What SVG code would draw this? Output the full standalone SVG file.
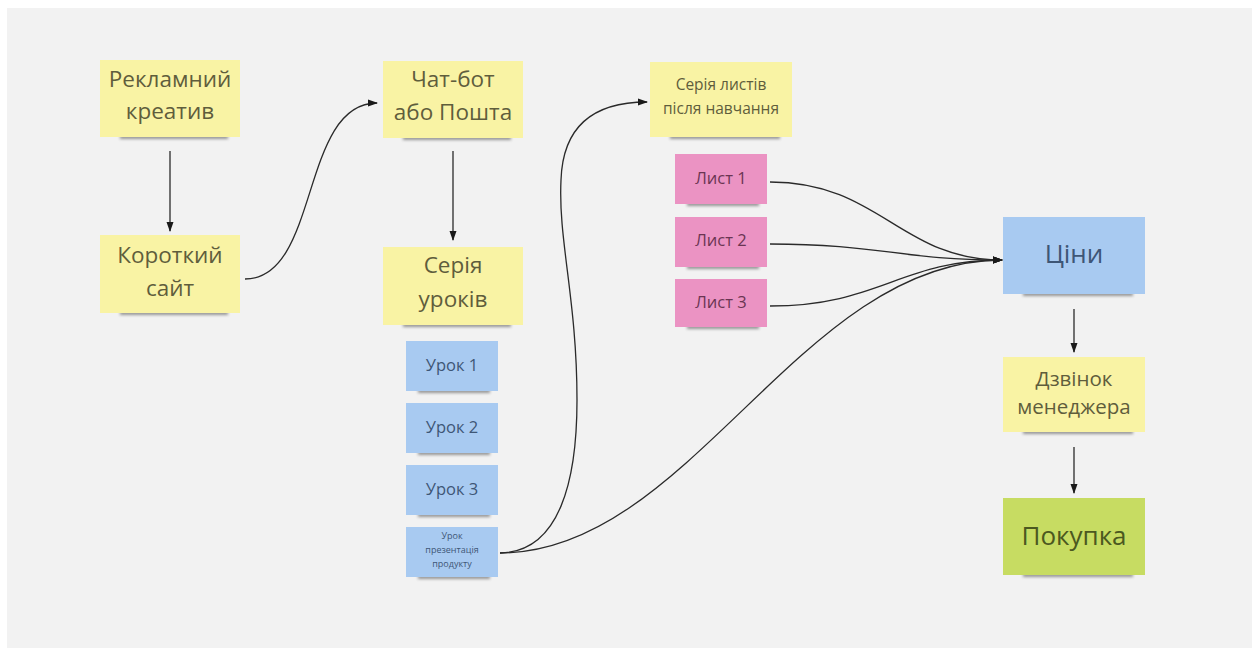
<svg xmlns="http://www.w3.org/2000/svg" width="1258" height="653" viewBox="0 0 1258 653">
  <style>
    .t { font-family: "Open Sans", "Liberation Sans", sans-serif; text-anchor: middle; }
    .yl { fill: #f9f3a4; }
    .pk { fill: #eb93c3; }
    .bl { fill: #a8caf1; }
    .gr { fill: #c7dc62; }
    .ty { fill: #5f5d3c; }
    .tp { fill: #6a3552; }
    .tb { fill: #3e5676; }
    .tg { fill: #4b5820; }
    .sh { fill: #555555; opacity: 0.6; filter: url(#blur); }
    .ca { fill: none; stroke: #2a2a2a; stroke-width: 1.3; marker-end: url(#ah); }
  </style>
  <defs>
    <filter id="blur" x="-10%" y="-100%" width="120%" height="300%">
      <feGaussianBlur stdDeviation="1.5"/>
    </filter>
    <marker id="ah" markerWidth="10" markerHeight="8" refX="9" refY="4" orient="auto" markerUnits="userSpaceOnUse">
      <path d="M0,0.5 L10,4 L0,7.5 Z" fill="#1a1a1a"/>
    </marker>
  </defs>
  <rect x="0" y="0" width="1258" height="653" fill="#ffffff"/>
  <rect x="7" y="8" width="1245" height="640" fill="#f2f2f2"/>

  <g id="connectors">
    <path class="ca" d="M170,151 L170,231"/>
    <path class="ca" d="M245,279 C320,279 300,103 377,103"/>
    <path class="ca" d="M453,151 L453,240"/>
    <path class="ca" d="M500,553 C560,552 577,480 577,400 C577,300 558,240 561,180 C563,120 600,102 647,102"/>
    <path class="ca" d="M500,553 C690,553 800,260 1002,260"/>
    <path class="ca" d="M770,182 C880,182 900,260 1002,260"/>
    <path class="ca" d="M770,244 C880,244 900,260 1002,260"/>
    <path class="ca" d="M770,306 C880,306 900,260 1002,260"/>
    <path class="ca" d="M1074,309 L1074,352"/>
    <path class="ca" d="M1074,447 L1074,493"/>
  </g>

  <g id="n-reklamnyi">
    <rect class="sh" x="120" y="135" width="108" height="4"/>
    <rect class="yl" x="100" y="60" width="140" height="77"/>
    <text class="t ty" font-size="22.5" x="170" y="87">Рекламний</text>
    <text class="t ty" font-size="22.5" x="170" y="119">креатив</text>
  </g>
  <g id="n-korotkyi">
    <rect class="sh" x="120" y="311" width="108" height="4"/>
    <rect class="yl" x="100" y="235" width="140" height="78"/>
    <text class="t ty" font-size="22.5" x="170" y="263">Короткий</text>
    <text class="t ty" font-size="22.5" x="170" y="296">сайт</text>
  </g>
  <g id="n-chatbot">
    <rect class="sh" x="403" y="136" width="108" height="4"/>
    <rect class="yl" x="383" y="61" width="140" height="77"/>
    <text class="t ty" font-size="22.5" x="453" y="87">Чат-бот</text>
    <text class="t ty" font-size="22.5" x="453" y="120">або Пошта</text>
  </g>
  <g id="n-seriia-urokiv">
    <rect class="sh" x="403" y="323" width="108" height="4"/>
    <rect class="yl" x="383" y="247" width="140" height="78"/>
    <text class="t ty" font-size="22.5" x="453" y="273">Серія</text>
    <text class="t ty" font-size="22.5" x="453" y="307">уроків</text>
  </g>
  <g id="n-urok1">
    <rect class="sh" x="418" y="389" width="72" height="4"/>
    <rect class="bl" x="406" y="341" width="92" height="50"/>
    <text class="t tb" font-size="16.5" x="452" y="371">Урок 1</text>
  </g>
  <g id="n-urok2">
    <rect class="sh" x="418" y="451" width="72" height="4"/>
    <rect class="bl" x="406" y="403" width="92" height="50"/>
    <text class="t tb" font-size="16.5" x="452" y="433">Урок 2</text>
  </g>
  <g id="n-urok3">
    <rect class="sh" x="418" y="513" width="72" height="4"/>
    <rect class="bl" x="406" y="465" width="92" height="50"/>
    <text class="t tb" font-size="16.5" x="452" y="495">Урок 3</text>
  </g>
  <g id="n-urok-prezentatsiia">
    <rect class="sh" x="418" y="575" width="72" height="4"/>
    <rect class="bl" x="406" y="527" width="92" height="50"/>
    <text class="t tb" font-size="9" x="452" y="539">Урок</text>
    <text class="t tb" font-size="9" x="452" y="553">презентація</text>
    <text class="t tb" font-size="9" x="452" y="567">продукту</text>
  </g>
  <g id="n-seriia-lystiv">
    <rect class="sh" x="670" y="135" width="110" height="4"/>
    <rect class="yl" x="650" y="62" width="142" height="75"/>
    <text class="t ty" font-size="15.5" x="721" y="90">Серія листів</text>
    <text class="t ty" font-size="15.5" x="721" y="114">після навчання</text>
  </g>
  <g id="n-lyst1">
    <rect class="sh" x="687" y="202" width="72" height="4"/>
    <rect class="pk" x="675" y="154" width="92" height="50"/>
    <text class="t tp" font-size="16.5" x="721" y="184">Лист 1</text>
  </g>
  <g id="n-lyst2">
    <rect class="sh" x="687" y="265" width="72" height="4"/>
    <rect class="pk" x="675" y="217" width="92" height="50"/>
    <text class="t tp" font-size="16.5" x="721" y="246">Лист 2</text>
  </g>
  <g id="n-lyst3">
    <rect class="sh" x="687" y="325" width="72" height="4"/>
    <rect class="pk" x="675" y="279" width="92" height="48"/>
    <text class="t tp" font-size="16.5" x="721" y="308">Лист 3</text>
  </g>
  <g id="n-tsiny">
    <rect class="sh" x="1023" y="292" width="110" height="4"/>
    <rect class="bl" x="1003" y="217" width="142" height="77"/>
    <text class="t tb" font-size="26" x="1074" y="263">Ціни</text>
  </g>
  <g id="n-dzvinok">
    <rect class="sh" x="1023" y="430" width="110" height="4"/>
    <rect class="yl" x="1003" y="357" width="142" height="75"/>
    <text class="t ty" font-size="20.5" x="1074" y="386">Дзвінок</text>
    <text class="t ty" font-size="20.5" x="1074" y="414">менеджера</text>
  </g>
  <g id="n-pokupka">
    <rect class="sh" x="1023" y="573" width="110" height="4"/>
    <rect class="gr" x="1003" y="498" width="142" height="77"/>
    <text class="t tg" font-size="26" x="1074" y="545">Покупка</text>
  </g>
</svg>
